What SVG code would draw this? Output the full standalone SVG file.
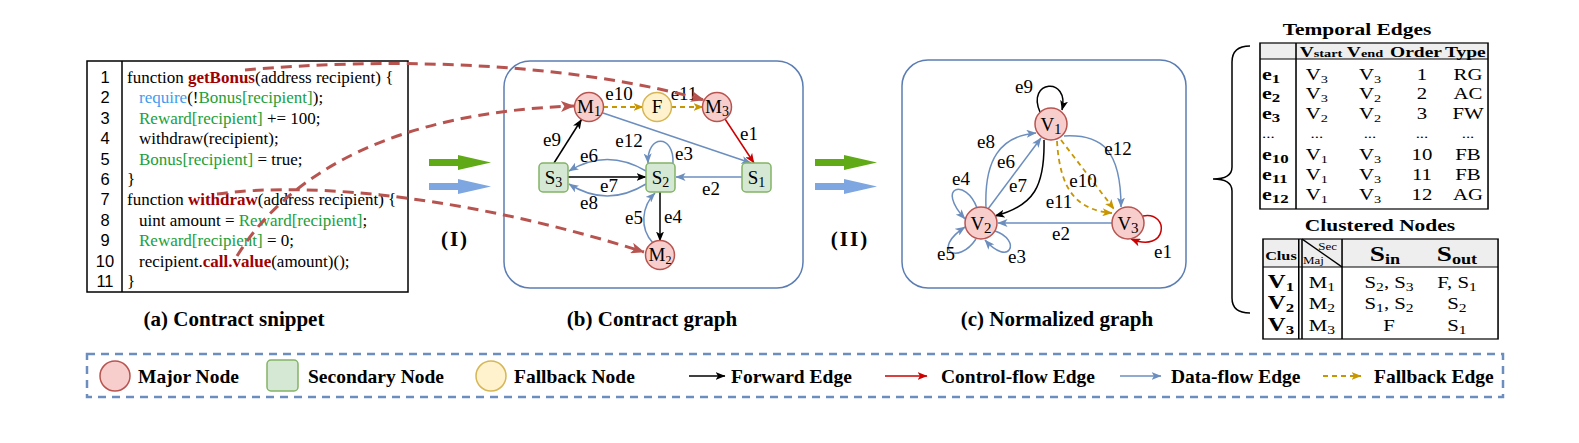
<svg xmlns="http://www.w3.org/2000/svg" width="1579" height="443" viewBox="0 0 1579 443">
<style>
.serif{font-family:"Liberation Serif","Times New Roman",serif;}
.code{font-family:"Liberation Serif","Times New Roman",serif;font-size:17px;fill:#000;}
.num{font-family:"Liberation Sans",Arial,sans-serif;font-size:16.5px;fill:#000;text-anchor:middle;}
.red{fill:#a00000;font-weight:bold;}
.grn{fill:#21a038;}
.blu{fill:#3d9cf0;}
.lbl{font-family:"Liberation Serif","Times New Roman",serif;font-size:19px;fill:#000;text-anchor:middle;}
.nl{font-family:"Liberation Serif","Times New Roman",serif;font-size:19px;fill:#000;text-anchor:middle;}
.cap{font-family:"Liberation Serif","Times New Roman",serif;font-size:21px;font-weight:bold;fill:#000;text-anchor:middle;}
.leg{font-family:"Liberation Serif","Times New Roman",serif;font-size:19.5px;font-weight:bold;fill:#000;}
.major{fill:#f8cecc;stroke:#b85450;stroke-width:1.5;}
.sec{fill:#d5e8d4;stroke:#82b366;stroke-width:1.5;}
.fb{fill:#fff2cc;stroke:#d6b656;stroke-width:1.5;}
.frame{fill:#fff;stroke:#5b7db3;stroke-width:1.5;}
.eb{fill:none;stroke:#000;stroke-width:1.5;marker-end:url(#aK);}
.er{fill:none;stroke:#cc0000;stroke-width:1.5;marker-end:url(#aR);}
.ed{fill:none;stroke:#6c8ebf;stroke-width:1.5;marker-end:url(#aD);}
.eg{fill:none;stroke:#c89600;stroke-width:1.8;stroke-dasharray:5 4;marker-end:url(#aG);}
.link{fill:none;stroke:#b85450;stroke-width:3;stroke-dasharray:11 7;marker-end:url(#aL);}
.tbl{fill:none;stroke:#000;stroke-width:1.2;}
.tt{font-family:"Liberation Serif","Times New Roman",serif;font-size:16px;fill:#000;text-anchor:middle;}
.tb{font-family:"Liberation Serif","Times New Roman",serif;font-weight:bold;fill:#000;}
</style>
<defs>
<marker id="aK" viewBox="0 0 10 8" refX="9.5" refY="4" markerWidth="10" markerHeight="8" markerUnits="userSpaceOnUse" orient="auto"><path d="M0,0 L10,4 L0,8 L2.5,4 z" fill="#000"/></marker>
<marker id="aR" viewBox="0 0 10 8" refX="9.5" refY="4" markerWidth="10" markerHeight="8" markerUnits="userSpaceOnUse" orient="auto"><path d="M0,0 L10,4 L0,8 L2.5,4 z" fill="#cc0000"/></marker>
<marker id="aD" viewBox="0 0 10 8" refX="9.5" refY="4" markerWidth="10" markerHeight="8" markerUnits="userSpaceOnUse" orient="auto"><path d="M0,0 L10,4 L0,8 L2.5,4 z" fill="#6c8ebf"/></marker>
<marker id="aG" viewBox="0 0 10 8" refX="9.5" refY="4" markerWidth="10" markerHeight="8" markerUnits="userSpaceOnUse" orient="auto"><path d="M0,0 L10,4 L0,8 L2.5,4 z" fill="#c89600"/></marker>
<marker id="aL" viewBox="0 0 10 8" refX="9.5" refY="4" markerWidth="14" markerHeight="11" markerUnits="userSpaceOnUse" orient="auto"><path d="M0,0 L10,4 L0,8 L2.5,4 z" fill="#b85450"/></marker>
</defs>
<rect width="1579" height="443" fill="#fff"/>

<!-- (a) code snippet -->
<g id="code">
<rect x="87" y="61" width="321" height="231" fill="#fff" stroke="#000" stroke-width="1.5"/>
<line x1="122" y1="61" x2="122" y2="292" stroke="#000" stroke-width="1.5"/>
<text class="num" x="105" y="83">1</text>
<text class="num" x="105" y="103.4">2</text>
<text class="num" x="105" y="123.8">3</text>
<text class="num" x="105" y="144.2">4</text>
<text class="num" x="105" y="164.6">5</text>
<text class="num" x="105" y="185">6</text>
<text class="num" x="105" y="205.4">7</text>
<text class="num" x="105" y="225.8">8</text>
<text class="num" x="105" y="246.2">9</text>
<text class="num" x="105" y="266.6">10</text>
<text class="num" x="105" y="287">11</text>
<text class="code" x="127" y="83">function <tspan class="red">getBonus</tspan>(address recipient) {</text>
<text class="code" x="139" y="103.4"><tspan class="blu">require</tspan>(!<tspan class="grn">Bonus[recipient]</tspan>);</text>
<text class="code" x="139" y="123.8"><tspan class="grn">Reward[recipient]</tspan> += 100;</text>
<text class="code" x="139" y="144.2">withdraw(recipient);</text>
<text class="code" x="139" y="164.6"><tspan class="grn">Bonus[recipient]</tspan> = true;</text>
<text class="code" x="127" y="185">}</text>
<text class="code" x="127" y="205.4">function <tspan class="red">withdraw</tspan>(address recipient) {</text>
<text class="code" x="139" y="225.8">uint amount = <tspan class="grn">Reward[recipient]</tspan>;</text>
<text class="code" x="139" y="246.2"><tspan class="grn">Reward[recipient]</tspan> = 0;</text>
<text class="code" x="139" y="266.6">recipient.<tspan class="red">call.value</tspan>(amount)();</text>
<text class="code" x="127" y="287">}</text>
</g>

<!-- transition arrows -->
<g id="step1">
<polygon points="429,159 458,159 458,155 491,162.5 458,170 458,166 429,166" fill="#60a917"/>
<polygon points="429,183 458,183 458,179 491,186.5 458,194 458,190 429,190" fill="#7ea6e0"/>
<text class="cap" x="455" y="246" letter-spacing="2">(I)</text>
</g>
<g id="step2">
<polygon points="815,159 844,159 844,155 877,162.5 844,170 844,166 815,166" fill="#60a917"/>
<polygon points="815,183 844,183 844,179 877,186.5 844,194 844,190 815,190" fill="#7ea6e0"/>
<text class="cap" x="850" y="246" letter-spacing="2">(II)</text>
</g>

<!-- (b) frame -->
<rect id="frameB" class="frame" x="504" y="61" width="299" height="227" rx="26"/>
<!-- (c) frame -->
<rect id="frameC" class="frame" x="902" y="60" width="284" height="228" rx="26"/>

<!-- connectors (b) -->
<g id="edgesB">
<line class="eg" x1="603" y1="107" x2="643" y2="107"/>
<line class="eg" x1="671" y1="107" x2="703" y2="107"/>
<line class="er" x1="725" y1="119" x2="754" y2="163"/>
<line class="ed" x1="603" y1="113" x2="751" y2="163"/>
<line class="eb" x1="554" y1="163" x2="581.5" y2="119.5"/>
<path class="ed" d="M646 171 Q607 148 569 171"/>
<line class="eb" x1="568" y1="177" x2="646" y2="177"/>
<path class="ed" d="M646 184 Q607 208 569 184"/>
<path class="ed" d="M673 163 C674 134 647 134 648 163"/>
<line class="ed" x1="742" y1="177" x2="676" y2="177"/>
<line class="eb" x1="660" y1="192" x2="660" y2="241"/>
<path class="ed" d="M653 243 C639 228 642 206 655 193"/>
<g class="lbl">
<text x="619" y="100">e10</text>
<text x="684" y="100">e11</text>
<text x="749" y="140">e1</text>
<text x="629" y="147">e12</text>
<text x="552" y="146">e9</text>
<text x="589" y="162">e6</text>
<text x="684" y="160">e3</text>
<text x="609" y="192">e7</text>
<text x="711" y="195">e2</text>
<text x="589" y="209">e8</text>
<text x="634" y="224">e5</text>
<text x="673" y="223">e4</text>
</g>
</g>

<!-- nodes (b) -->
<g id="nodeM1"><circle class="major" cx="589" cy="107" r="14.5"/><text class="nl" x="589" y="113">M<tspan font-size="14" dy="3">1</tspan></text></g>
<g id="nodeF"><circle class="fb" cx="657" cy="107" r="14.5"/><text class="nl" x="657" y="113">F</text></g>
<g id="nodeM3"><circle class="major" cx="717" cy="107" r="14.5"/><text class="nl" x="717" y="113">M<tspan font-size="14" dy="3">3</tspan></text></g>
<g id="nodeS3"><rect class="sec" x="539" y="163" width="29" height="29" rx="4"/><text class="nl" x="553.5" y="184">S<tspan font-size="14" dy="3">3</tspan></text></g>
<g id="nodeS2"><rect class="sec" x="646" y="163" width="29" height="29" rx="4"/><text class="nl" x="660.5" y="184">S<tspan font-size="14" dy="3">2</tspan></text></g>
<g id="nodeS1"><rect class="sec" x="742" y="163" width="29" height="29" rx="4"/><text class="nl" x="756.5" y="184">S<tspan font-size="14" dy="3">1</tspan></text></g>
<g id="nodeM2"><circle class="major" cx="660" cy="255" r="14.5"/><text class="nl" x="660" y="261" font-size="17">M<tspan font-size="12" dy="3">2</tspan></text></g>

<!-- connectors (c) -->
<g id="edgesC">
<path class="eb" d="M1040 112 C1026 80 1070 76 1062 110"/>
<path class="ed" d="M1064 136 C1102 134 1121 150 1121 207"/>
<path class="eg" d="M1061 140 L1114 209"/>
<path class="eg" d="M1057 141 C1060 192 1078 210 1112 213"/>
<path class="eb" d="M1044 140 C1045 186 1034 206 995 216"/>
<line class="ed" x1="988" y1="209" x2="1041" y2="138"/>
<path class="ed" d="M986 208 C984 160 1000 136 1036 133"/>
<line class="ed" x1="1112" y1="223" x2="998" y2="223"/>
<path class="ed" d="M977 208 C966 178 935 186 965 219"/>
<path class="ed" d="M976 239 C958 266 930 250 965 227"/>
<path class="ed" d="M995 231 C1022 240 1010 268 985 240"/>
<path class="er" d="M1143 216 C1170 211 1168 254 1131 239"/>
<g class="lbl">
<text x="1024" y="93">e9</text>
<text x="1118" y="155">e12</text>
<text x="986" y="148">e8</text>
<text x="1006" y="168">e6</text>
<text x="1018" y="192">e7</text>
<text x="1083" y="187">e10</text>
<text x="1059" y="208">e11</text>
<text x="961" y="185">e4</text>
<text x="1061" y="240">e2</text>
<text x="946" y="260">e5</text>
<text x="1017" y="263">e3</text>
<text x="1163" y="258">e1</text>
</g>
</g>

<!-- nodes (c) -->
<g id="nodeV1"><circle class="major" cx="1051" cy="124" r="16"/><text class="nl" x="1051" y="131" font-size="21">V<tspan font-size="15" dy="3">1</tspan></text></g>
<g id="nodeV2"><circle class="major" cx="981" cy="223" r="16"/><text class="nl" x="981" y="230" font-size="21">V<tspan font-size="15" dy="3">2</tspan></text></g>
<g id="nodeV3"><circle class="major" cx="1128" cy="223" r="16"/><text class="nl" x="1128" y="230" font-size="21">V<tspan font-size="15" dy="3">3</tspan></text></g>

<!-- code-to-graph links -->
<g id="links">
<path class="link" d="M245 70 C380 58 560 60 704 100"/>
<path class="link" d="M237 256 C290 170 400 112 574 106"/>
<path class="link" d="M217 194 C320 180 480 200 644 252"/>
</g>

<!-- captions -->
<text class="cap" x="234" y="326">(a) Contract snippet</text>
<text class="cap" x="652" y="326">(b) Contract graph</text>
<text class="cap" x="1057" y="326">(c) Normalized graph</text>

<!-- brace -->
<path id="brace" d="M1250 46 Q1232 46 1232 62 L1232 167 Q1232 179 1213 179 Q1232 179 1232 191 L1232 298 Q1232 313 1250 313" fill="none" stroke="#000" stroke-width="1.5"/>

<!-- Temporal Edges table -->
<g id="temporalEdges" transform="translate(1260,0) scale(1.3,1)">
<text class="tb" x="74.6" y="35" font-size="16.5" text-anchor="middle">Temporal Edges</text>
<rect x="0" y="43" width="175.4" height="16" fill="#eeeeee"/>
<rect class="tbl" x="0" y="43" width="175.4" height="166" stroke-width="1.5"/>
<line class="tbl" x1="0" y1="59" x2="175.4" y2="59"/>
<line class="tbl" x1="27.7" y1="43" x2="27.7" y2="209"/>
<g class="tb" text-anchor="middle" font-size="15">
<text x="46.9" y="57">V<tspan font-size="11">start</tspan></text>
<text x="80.8" y="57">V<tspan font-size="11">end</tspan></text>
<text x="120" y="57">Order</text>
<text x="158" y="57">Type</text>
</g>
<g class="tb" font-size="17">
<text x="1.5" y="80">e<tspan font-size="13" dy="3">1</tspan></text>
<text x="1.5" y="99.5">e<tspan font-size="13" dy="3">2</tspan></text>
<text x="1.5" y="119">e<tspan font-size="13" dy="3">3</tspan></text>
<text x="1.5" y="138.5" font-weight="normal" font-size="13">...</text>
<text x="1.5" y="160">e<tspan font-size="13" dy="3">10</tspan></text>
<text x="1.5" y="180">e<tspan font-size="13" dy="3">11</tspan></text>
<text x="1.5" y="200">e<tspan font-size="13" dy="3">12</tspan></text>
</g>
<g class="tt">
<text x="43.8" y="80">V<tspan font-size="11" dy="3">3</tspan></text>
<text x="84.6" y="80">V<tspan font-size="11" dy="3">3</tspan></text>
<text x="124.6" y="80">1</text>
<text x="160" y="80">RG</text>
<text x="43.8" y="99.5">V<tspan font-size="11" dy="3">3</tspan></text>
<text x="84.6" y="99.5">V<tspan font-size="11" dy="3">2</tspan></text>
<text x="124.6" y="99.5">2</text>
<text x="160" y="99.5">AC</text>
<text x="43.8" y="119">V<tspan font-size="11" dy="3">2</tspan></text>
<text x="84.6" y="119">V<tspan font-size="11" dy="3">2</tspan></text>
<text x="124.6" y="119">3</text>
<text x="160" y="119">FW</text>
<text x="43.8" y="138.5" font-size="13">...</text>
<text x="84.6" y="138.5" font-size="13">...</text>
<text x="124.6" y="138.5" font-size="13">...</text>
<text x="160" y="138.5" font-size="13">...</text>
<text x="43.8" y="160">V<tspan font-size="11" dy="3">1</tspan></text>
<text x="84.6" y="160">V<tspan font-size="11" dy="3">3</tspan></text>
<text x="124.6" y="160">10</text>
<text x="160" y="160">FB</text>
<text x="43.8" y="180">V<tspan font-size="11" dy="3">1</tspan></text>
<text x="84.6" y="180">V<tspan font-size="11" dy="3">3</tspan></text>
<text x="124.6" y="180">11</text>
<text x="160" y="180">FB</text>
<text x="43.8" y="200">V<tspan font-size="11" dy="3">1</tspan></text>
<text x="84.6" y="200">V<tspan font-size="11" dy="3">3</tspan></text>
<text x="124.6" y="200">12</text>
<text x="160" y="200">AG</text>
</g>
</g>

<!-- Clustered Nodes table -->
<g id="clusteredNodes" transform="translate(1263,0) scale(1.3,1)">
<text class="tb" x="90" y="231" font-size="16.5" text-anchor="middle">Clustered Nodes</text>
<rect x="0" y="239" width="180.8" height="28" fill="#eeeeee"/>
<rect class="tbl" x="0" y="239" width="180.8" height="100" stroke-width="1.5"/>
<line class="tbl" x1="0" y1="267" x2="180.8" y2="267" stroke-width="2"/>
<line class="tbl" x1="27.5" y1="239" x2="27.5" y2="339"/>
<line class="tbl" x1="30" y1="239" x2="30" y2="339"/>
<line class="tbl" x1="60.8" y1="239" x2="60.8" y2="339"/>
<line class="tbl" x1="30" y1="239" x2="60.8" y2="267"/>
<text class="tb" x="13.8" y="260" font-size="12.5" text-anchor="middle">Clus</text>
<text class="serif" x="57" y="250" font-size="10" text-anchor="end">Sec</text>
<text class="serif" x="30.8" y="264" font-size="10">Maj</text>
<text class="tb" x="93.8" y="261" font-size="21" text-anchor="middle">S<tspan font-size="14" dy="3">in</tspan></text>
<text class="tb" x="149.2" y="261" font-size="21" text-anchor="middle">S<tspan font-size="14" dy="3">out</tspan></text>
<g class="tb" font-size="19" text-anchor="middle">
<text x="13.8" y="288">V<tspan font-size="13" dy="3">1</tspan></text>
<text x="13.8" y="309">V<tspan font-size="13" dy="3">2</tspan></text>
<text x="13.8" y="331">V<tspan font-size="13" dy="3">3</tspan></text>
</g>
<g class="tt" font-size="17">
<text x="45.4" y="288">M<tspan font-size="12" dy="3">1</tspan></text>
<text x="45.4" y="309">M<tspan font-size="12" dy="3">2</tspan></text>
<text x="45.4" y="331">M<tspan font-size="12" dy="3">3</tspan></text>
<text x="97" y="288">S<tspan font-size="12" dy="3">2</tspan><tspan dy="-3">, S</tspan><tspan font-size="12" dy="3">3</tspan></text>
<text x="97" y="309">S<tspan font-size="12" dy="3">1</tspan><tspan dy="-3">, S</tspan><tspan font-size="12" dy="3">2</tspan></text>
<text x="97" y="331">F</text>
<text x="149.2" y="288">F, S<tspan font-size="12" dy="3">1</tspan></text>
<text x="149.2" y="309">S<tspan font-size="12" dy="3">2</tspan></text>
<text x="149.2" y="331">S<tspan font-size="12" dy="3">1</tspan></text>
</g>
</g>

<!-- legend -->
<g id="legend">
<rect x="87" y="354" width="1416" height="43" fill="none" stroke="#6c8ebf" stroke-width="2.5" stroke-dasharray="8 6"/>
<g id="legMajor"><circle class="major" cx="115" cy="376" r="15"/><text class="leg" x="138" y="383">Major Node</text></g>
<g id="legSecondary"><rect class="sec" x="267" y="360" width="31" height="31" rx="4"/><text class="leg" x="308" y="383">Secondary Node</text></g>
<g id="legFallback"><circle class="fb" cx="491" cy="376" r="15"/><text class="leg" x="514" y="383">Fallback Node</text></g>
<g id="legForward"><line class="eb" x1="689" y1="376" x2="725" y2="376"/><text class="leg" x="731" y="383">Forward Edge</text></g>
<g id="legControl"><line class="er" x1="885" y1="376" x2="927" y2="376"/><text class="leg" x="941" y="383">Control-flow Edge</text></g>
<g id="legData"><line class="ed" x1="1120" y1="376" x2="1161" y2="376"/><text class="leg" x="1171" y="383">Data-flow Edge</text></g>
<g id="legFallbackEdge"><line class="eg" x1="1323" y1="376" x2="1361" y2="376" stroke-width="2.5"/><text class="leg" x="1374" y="383">Fallback Edge</text></g>
</g>
</svg>
